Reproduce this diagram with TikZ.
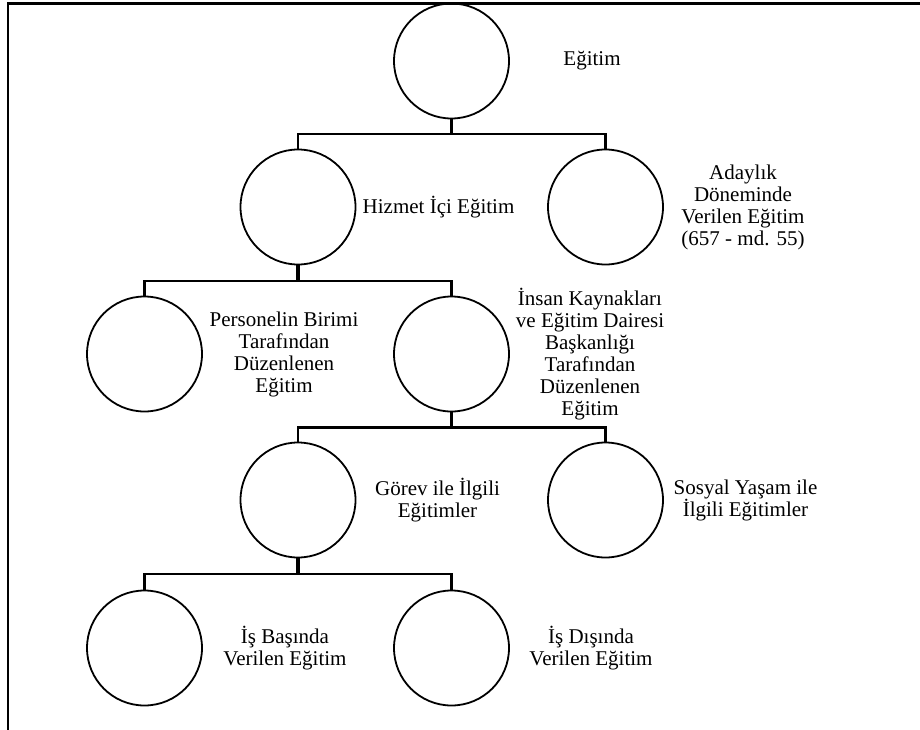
\documentclass[tikz,border=0pt]{standalone}
\usepackage{fontspec}
\setmainfont{Liberation Serif}
\begin{document}
\begin{tikzpicture}[x=1pt,y=-1pt,
  unit/.style={circle,draw,line width=1.8pt,minimum size=115pt,inner sep=0pt},
  label text/.style={align=center,inner sep=0pt,font=\fontsize{21}{22}\selectfont},
  stem/.style={line width=3.5pt},
  bar/.style={line width=2.5pt}]
\useasboundingbox (0,0) rectangle (920,730);
% outer frame (top and left edges)
\draw[line width=2.5pt] (8,730) -- (8,3.5) -- (920,3.5);

% level 1
\node[unit] (c0) at (451.5,61) {};
\node[label text] (t0) at (592,61) {Eğitim};
% level 2
\node[unit] (c1) at (298,207) {};
\node[label text] (t1) at (438.5,207) {Hizmet İçi Eğitim};
\node[unit] (c2) at (605.5,207) {};
\node[label text] (t2) at (743,207) {Adaylık\\Döneminde\\Verilen Eğitim\\(657 - md. 55)};
% level 3
\node[unit] (c3) at (144.5,354) {};
\node[label text] (t3) at (284,354) {Personelin Birimi\\Tarafından\\Düzenlenen\\Eğitim};
\node[unit] (c4) at (451.5,354) {};
\node[label text] (t4) at (590,354) {İnsan Kaynakları\\ve Eğitim Dairesi\\Başkanlığı\\Tarafından\\Düzenlenen\\Eğitim};
% level 4
\node[unit] (c5) at (298,500) {};
\node[label text] (t5) at (437.5,500) {Görev ile İlgili\\Eğitimler};
\node[unit] (c6) at (605.5,500) {};
\node[label text] (t6) at (745.5,500) {Sosyal Yaşam ile\\İlgili Eğitimler};
% level 5
\node[unit] (c7) at (144.5,648) {};
\node[label text] (t7) at (285,648) {İş Başında\\Verilen Eğitim};
\node[unit] (c8) at (451.5,648) {};
\node[label text] (t8) at (591,648) {İş Dışında\\Verilen Eğitim};

% branch points
\coordinate (b0) at (451.5,134);
\coordinate (b1) at (298,281);
\coordinate (b2) at (451.5,427.5);
\coordinate (b3) at (298,574);

% connectors
\draw[stem] (c0.south) -- (b0);
\draw[bar] (c1.north) |- (b0) -| (c2.north);
\draw[stem] (c1.south) -- (b1);
\draw[bar] (c3.north) |- (b1) -| (c4.north);
\draw[stem] (c4.south) -- (b2);
\draw[bar] (c5.north) |- (b2) -| (c6.north);
\draw[stem] (c5.south) -- (b3);
\draw[bar] (c7.north) |- (b3) -| (c8.north);
\end{tikzpicture}
\end{document}
